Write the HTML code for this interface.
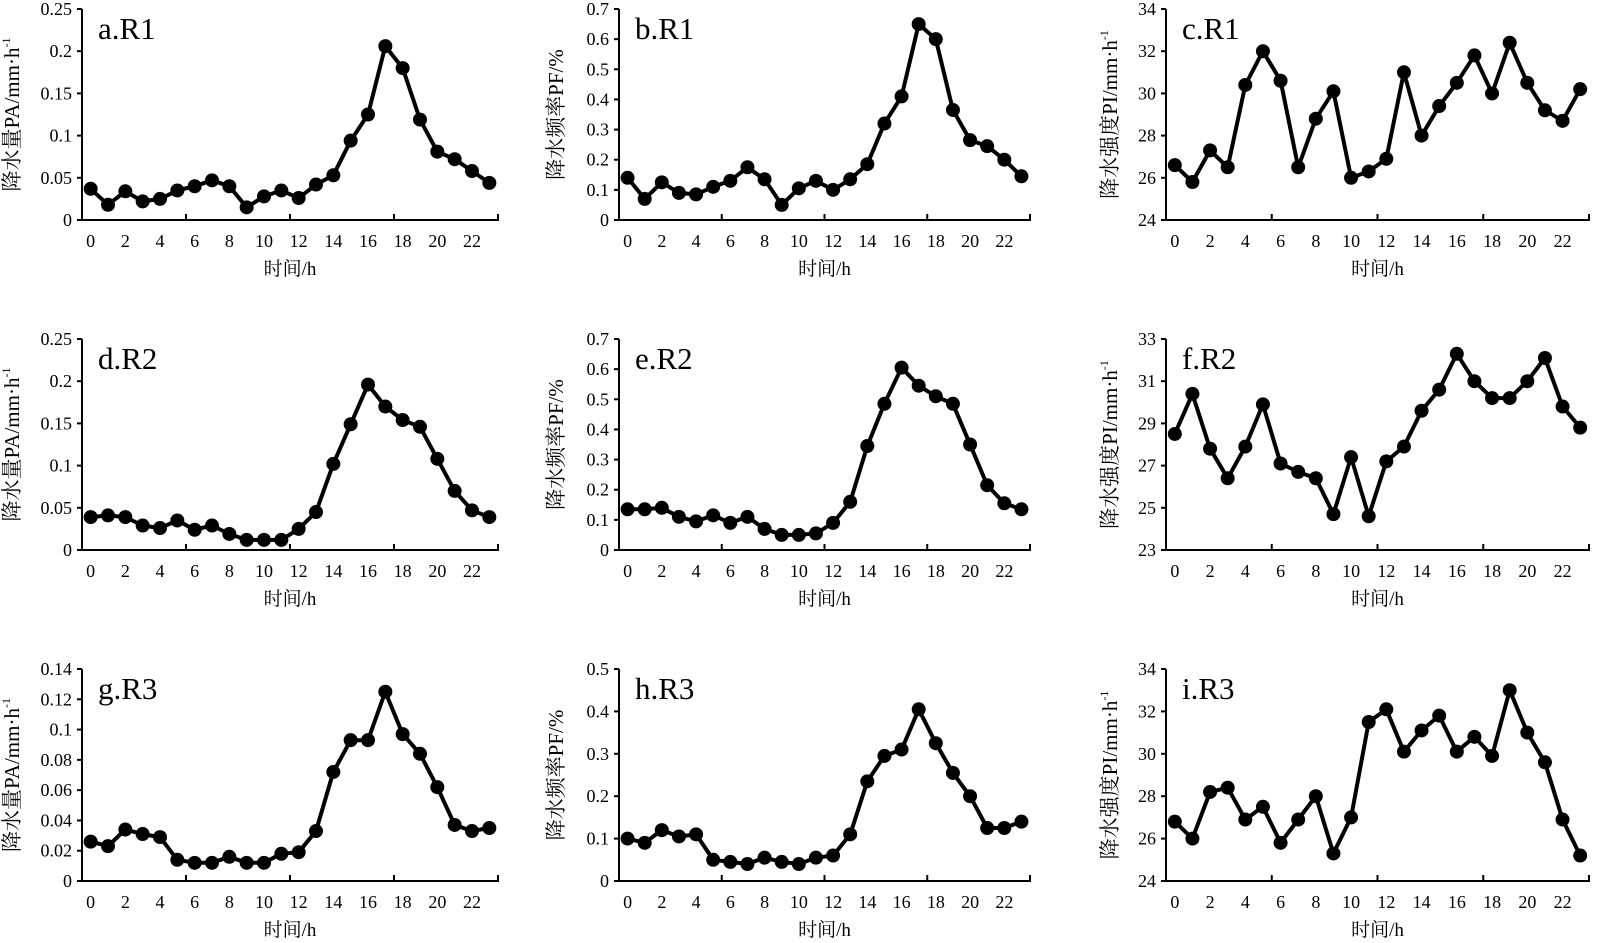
<!DOCTYPE html>
<html><head><meta charset="utf-8"><style>
html,body{margin:0;padding:0;background:#fff}
svg{display:block}
text{font-family:"Liberation Serif","Noto Serif CJK SC",serif;fill:#000}
</style></head><body>
<svg id="fig" width="1600" height="943" viewBox="0 0 1600 943" xmlns="http://www.w3.org/2000/svg"></svg>
<script>
const hours = [0,1,2,3,4,5,6,7,8,9,10,11,12,13,14,15,16,17,18,19,20,21,22,23];
const xTickLabels = ["0","2","4","6","8","10","12","14","16","18","20","22"];
const seriesA = [0.037,0.018,0.034,0.022,0.025,0.035,0.040,0.047,0.040,0.015,0.028,0.035,0.026,0.042,0.053,0.094,0.125,0.206,0.180,0.119,0.081,0.072,0.058,0.044];
const seriesB = [0.14,0.07,0.125,0.09,0.085,0.11,0.13,0.175,0.135,0.05,0.105,0.13,0.10,0.135,0.185,0.32,0.41,0.65,0.60,0.365,0.265,0.245,0.20,0.145];
const seriesC = [26.6,25.8,27.3,26.5,30.4,32.0,30.6,26.5,28.8,30.1,26.0,26.3,26.9,31.0,28.0,29.4,30.5,31.8,30.0,32.4,30.5,29.2,28.7,30.2];
const seriesD = [0.039,0.041,0.039,0.029,0.026,0.035,0.024,0.029,0.019,0.012,0.012,0.012,0.025,0.045,0.102,0.149,0.196,0.170,0.154,0.146,0.108,0.070,0.047,0.039];
const seriesE = [0.135,0.135,0.14,0.11,0.095,0.115,0.09,0.11,0.07,0.05,0.05,0.055,0.09,0.16,0.345,0.485,0.605,0.545,0.51,0.485,0.35,0.215,0.155,0.135];
const seriesF = [28.5,30.4,27.8,26.4,27.9,29.9,27.1,26.7,26.4,24.7,27.4,24.6,27.2,27.9,29.6,30.6,32.3,31.0,30.2,30.2,31.0,32.1,29.8,28.8];
const seriesG = [0.026,0.023,0.034,0.031,0.029,0.014,0.012,0.012,0.016,0.012,0.012,0.018,0.019,0.033,0.072,0.093,0.093,0.125,0.097,0.084,0.062,0.037,0.033,0.035];
const seriesH = [0.10,0.09,0.12,0.105,0.11,0.05,0.045,0.04,0.055,0.045,0.04,0.055,0.06,0.11,0.235,0.295,0.31,0.405,0.325,0.255,0.20,0.125,0.125,0.14];
const seriesI = [26.8,26.0,28.2,28.4,26.9,27.5,25.8,26.9,28.0,25.3,27.0,31.5,32.1,30.1,31.1,31.8,30.1,30.8,29.9,33.0,31.0,29.6,26.9,25.2];
const ticksPA = ["0","0.05","0.1","0.15","0.2","0.25"];
const ticksPF7 = ["0","0.1","0.2","0.3","0.4","0.5","0.6","0.7"];
const ticksPI1 = ["24","26","28","30","32","34"];
const ticksPI2 = ["23","25","27","29","31","33"];
const ticksPA3 = ["0","0.02","0.04","0.06","0.08","0.1","0.12","0.14"];
const ticksPF5 = ["0","0.1","0.2","0.3","0.4","0.5"];

const NS = "http://www.w3.org/2000/svg";
const svg = document.getElementById('fig');
function el(tag, attrs, parent, txt){
  const e = document.createElementNS(NS, tag);
  for (const k in attrs) e.setAttribute(k, attrs[k]);
  if (txt !== undefined) e.textContent = txt;
  parent.appendChild(e);
  return e;
}
const cols = [{x0:82,x1:498,ty:12},{x0:619,x1:1030,ty:556},{x0:1166,x1:1589,ty:1110}];
const rows = [{top:9,bot:220},{top:339,bot:550},{top:669,bot:881}];
const panels = [
 {id:'a',title:'a.R1',c:0,r:0,data:seriesA,ticks:ticksPA,kind:0},
 {id:'b',title:'b.R1',c:1,r:0,data:seriesB,ticks:ticksPF7,kind:1},
 {id:'c',title:'c.R1',c:2,r:0,data:seriesC,ticks:ticksPI1,kind:2},
 {id:'d',title:'d.R2',c:0,r:1,data:seriesD,ticks:ticksPA,kind:0},
 {id:'e',title:'e.R2',c:1,r:1,data:seriesE,ticks:ticksPF7,kind:1},
 {id:'f',title:'f.R2',c:2,r:1,data:seriesF,ticks:ticksPI2,kind:2},
 {id:'g',title:'g.R3',c:0,r:2,data:seriesG,ticks:ticksPA3,kind:0},
 {id:'h',title:'h.R3',c:1,r:2,data:seriesH,ticks:ticksPF5,kind:1},
 {id:'i',title:'i.R3',c:2,r:2,data:seriesI,ticks:ticksPI1,kind:2}
];
const yTitles = ['降水量PA/mm·h','降水频率PF/%','降水强度PI/mm·h'];

panels.forEach(p=>{
  const C = cols[p.c], R = rows[p.r];
  const g = el('g', {}, svg);
  
  
  const ymin = parseFloat(p.ticks[0]), ymax = parseFloat(p.ticks[p.ticks.length-1]);
  const slot = (C.x1 - C.x0) / 24;
  const xs = i => C.x0 + slot * (i + 0.5);
  const ys = v => R.bot - (v - ymin) / (ymax - ymin) * (R.bot - R.top);
  const ax = el('path', {d:`M${C.x0},${R.top} V${R.bot} H${C.x1} v-6`, fill:'none', stroke:'#000', 'stroke-width':2}, g);
  
  
  [6,12,18].forEach(b=>{
    el('line',{x1:C.x0+slot*b,x2:C.x0+slot*b,y1:R.bot,y2:R.bot-6,stroke:'#000','stroke-width':2},g);
  });
  p.ticks.forEach(t=>{
    const y = ys(parseFloat(t));
    el('line',{x1:C.x0-5,x2:C.x0,y1:y,y2:y,stroke:'#000','stroke-width':2},g);
    const tl = el('text',{x:C.x0-10,y:y+6,'text-anchor':'end','font-size':18},g,t);
    
    
  });
  xTickLabels.forEach(t=>{
    const tl = el('text',{x:xs(parseFloat(t)),y:R.bot+27,'text-anchor':'middle','font-size':18},g,t);
    
    
  });
  const xt = el('text',{x:(C.x0+C.x1)/2,y:R.bot+55,'text-anchor':'middle','font-size':19},g,'时间/h');
  
  
  const cy = (R.top+R.bot)/2;
  const yt = el('text',{x:C.ty,y:cy,'text-anchor':'middle','font-size':21,transform:`rotate(-90 ${C.ty} ${cy})`,dy:7},g,yTitles[p.kind]);
  
  
  if (p.kind !== 1){
    el('tspan',{'font-size':12,dy:-9},yt,'-1');
  }
  const tt = el('text',{x:C.x0+16,y:R.top+30,'font-size':31},g,p.title);
  
  
  const d = p.data.map((v,i)=>(i?'L':'M')+xs(hours[i]).toFixed(1)+','+ys(v).toFixed(1)).join(' ');
  const ln = el('path',{d:d,fill:'none',stroke:'#000','stroke-width':4,'stroke-linejoin':'round'},g);
  
  
  p.data.forEach((v,i)=>{
    const pt = el('circle',{cx:xs(hours[i]),cy:ys(v),r:7,fill:'#000'},g);
    
    
  });
});
</script>
</body></html>
